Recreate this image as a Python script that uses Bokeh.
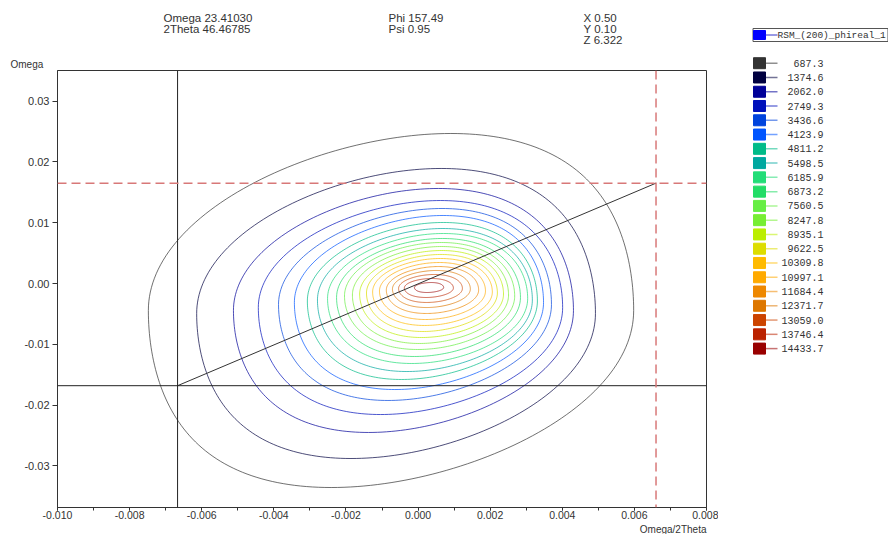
import numpy as np
from bokeh.plotting import figure
from bokeh.models import Range1d, SingleIntervalTicker, Span, PrintfTickFormatter, Title
from bokeh.layouts import row, column
from bokeh.embed import file_html
from bokeh.resources import INLINE
from bokeh.core.properties import value

# ---------------- data ----------------
levels = [687.3, 1374.6, 2062.0, 2749.3, 3436.6, 4123.9, 4811.2, 5498.5, 6185.9,
          6873.2, 7560.5, 8247.8, 8935.1, 9622.5, 10309.8, 10997.1, 11684.4,
          12371.7, 13059.0, 13746.4, 14433.7]
level_labels = ["%.1f" % v for v in levels]
level_colors = ["#333333", "#000040", "#000099", "#0011bb", "#0044dd", "#0055ff",
                "#00bb88", "#00a8a0", "#22dd77", "#22dd66", "#66ee44", "#77ee33",
                "#bbee00", "#dddd00", "#ffbb00", "#ffaa00", "#ee8800", "#dd7700",
                "#cc4400", "#bb2200", "#990000"]

# extent of each iso-intensity contour (Omega/2Theta, Omega)
contour_left = [-0.00748, -0.00614, -0.00512, -0.00443, -0.00387, -0.00343, -0.00307,
                -0.00279, -0.00251, -0.00226, -0.00204, -0.00182, -0.00162, -0.00143,
                -0.00126, -0.00107, -0.00088, -0.00071, -0.00054, -0.00038, -0.00010]
contour_right = [0.00598, 0.00492, 0.00431, 0.00401, 0.00370, 0.00348, 0.00331,
                 0.00317, 0.00304, 0.00284, 0.00268, 0.00251, 0.00237, 0.00220,
                 0.00206, 0.00187, 0.00168, 0.00145, 0.00123, 0.00098, 0.00071]
contour_top = [0.02466, 0.01891, 0.01562, 0.01364, 0.01233, 0.01118, 0.01003,
               0.00904, 0.00822, 0.00740, 0.00674, 0.00608, 0.00542, 0.00477,
               0.00411, 0.00345, 0.00279, 0.00214, 0.00148, 0.00082, 0.00016]
contour_bottom = [-0.03354, -0.02877, -0.02449, -0.02154, -0.01923, -0.01743, -0.01578,
                  -0.01447, -0.01315, -0.01200, -0.01085, -0.00986, -0.00888, -0.00789,
                  -0.00690, -0.00592, -0.00493, -0.00395, -0.00312, -0.00230, -0.00148]
# horizontal offset of each contour's highest point from its centre (tilt)
contour_tilt = [0.00166, 0.00125, 0.00097, 0.00083, 0.00075, 0.00067, 0.00058,
                0.00050, 0.00044, 0.00039, 0.00033, 0.00031, 0.00028, 0.00025,
                0.00022, 0.00019, 0.00017, 0.00014, 0.00011, 0.00008, 0.00006]

cursor_x = [-0.00667, 0.00660]
cursor_y = [-0.01680, 0.01650]

header_cols = [["Omega 23.41030", "2Theta 46.46785"],
               ["Phi 157.49", "Psi 0.95"],
               ["X 0.50", "Y 0.10", "Z 6.322"]]
series_name = "RSM_(200)_phireal_1"
x_title = "Omega/2Theta"
y_title = "Omega"

# ---------------- layout geometry (page pixels) ----------------
LEFT_W = 718
FRAME_L, FRAME_R = 57, 706
HEAD_H = 52
MAIN_H = 534 - HEAD_H
TOP_B, BOT_B = 18, 27
X0, X1 = -0.010, 0.008
Y1 = (283 - 70) / 6083.0
Y0 = (283 - (534 - BOT_B)) / 6083.0
FONT = "Liberation Sans"

# header (frame aligned with the main plot frame, so x is page pixels)
head = figure(width=LEFT_W, height=HEAD_H, x_range=Range1d(FRAME_L, FRAME_R),
              y_range=Range1d(HEAD_H, 0), toolbar_location=None, output_backend="svg",
              min_border_left=FRAME_L, min_border_right=LEFT_W - FRAME_R,
              min_border_top=0, min_border_bottom=0,
              x_axis_location=None, y_axis_location=None)
head.xgrid.visible = False
head.ygrid.visible = False
head.outline_line_color = None
hx = [163, 388, 583]
for col, x in zip(header_cols, hx):
    head.text(x=[x] * len(col), y=[17 + 11 * k for k in range(len(col))], text=col,
              text_font=value(FONT), text_font_size=value("11.5px"), text_color="#333333",
              text_baseline="middle", text_align="left")

# main plot
p = figure(width=LEFT_W, height=MAIN_H, x_range=Range1d(X0, X1), y_range=Range1d(Y0, Y1),
           toolbar_location=None, output_backend="svg",
           min_border_left=FRAME_L, min_border_right=LEFT_W - FRAME_R,
           min_border_top=TOP_B, min_border_bottom=BOT_B)
p.xgrid.visible = False
p.ygrid.visible = False
p.outline_line_color = "#333333"

p.title.text = y_title
p.title.align = "left"
p.title.offset = -47
p.title.standoff = 2
p.title.text_font = FONT
p.title.text_font_size = "10px"
p.title.text_font_style = "normal"
p.title.text_color = "#333333"

p.add_layout(Title(text=x_title, align="right", standoff=0, text_font=FONT,
                   text_font_size="10px", text_font_style="normal", text_color="#333333"),
             "below")

p.xaxis.ticker = SingleIntervalTicker(interval=0.002, num_minor_ticks=2)
p.xaxis.formatter = PrintfTickFormatter(format="%.3f")
p.yaxis.ticker = SingleIntervalTicker(interval=0.01, num_minor_ticks=0)
p.yaxis.formatter = PrintfTickFormatter(format="%.2f")
for ax in (p.xaxis[0], p.yaxis[0]):
    ax.axis_line_color = "#333333"
    ax.major_tick_line_color = "#333333"
    ax.minor_tick_line_color = "#333333"
    ax.major_tick_in = 0
    ax.minor_tick_in = 0
    ax.major_label_text_font = FONT
    ax.major_label_text_color = "#333333"
    ax.major_label_text_font_style = "normal"
p.xaxis.major_tick_out = 3
p.xaxis.minor_tick_out = 3
p.xaxis.major_label_standoff = 0
p.xaxis.major_label_text_font_size = "10.5px"
p.yaxis.major_tick_out = 5
p.yaxis.minor_tick_out = 0
p.yaxis.major_label_standoff = 3
p.yaxis.major_label_text_font_size = "11px"

# contours
t = np.linspace(0, 2 * np.pi, 241)
xs, ys = [], []
for L, R, T, B, d in zip(contour_left, contour_right, contour_top, contour_bottom, contour_tilt):
    cx, w = (L + R) / 2, (R - L) / 2
    cy, h = (T + B) / 2, (T - B) / 2
    s = np.sin(t)
    xs.append(cx + w * np.cos(t) + d * s * np.abs(s))
    ys.append(cy + h * s)
p.multi_line(xs, ys, line_color=level_colors, line_alpha=0.7, line_width=1)

# cursors
p.add_layout(Span(location=cursor_x[0], dimension="height", line_color="#222222", line_width=1))
p.add_layout(Span(location=cursor_y[0], dimension="width", line_color="#222222", line_width=1))
p.add_layout(Span(location=cursor_x[1], dimension="height", line_color="#d87878",
                  line_width=1.5, line_dash="9 5"))
p.add_layout(Span(location=cursor_y[1], dimension="width", line_color="#d87878",
                  line_width=1.5, line_dash="9 5"))
p.line(cursor_x, cursor_y, line_color="#333333", line_width=1)

# ---------------- legend panel ----------------
LW = 888 - LEFT_W
lg = figure(width=LW, height=534, x_range=Range1d(0, LW), y_range=Range1d(534, 0),
            toolbar_location=None, output_backend="svg", min_border=0,
            x_axis_location=None, y_axis_location=None)
lg.xgrid.visible = False
lg.ygrid.visible = False
lg.outline_line_color = None
lg.rect(x=[(34 + LW) / 2], y=[34.5], width=[LW - 34 - 1], height=[13],
        fill_color=None, line_color="#555555", line_width=1)
lg.rect(x=[41], y=[34.5], width=[12], height=[9], fill_color="#0000ff", line_color="#0000ff")
lg.segment(x0=[47], y0=[34.5], x1=[59], y1=[34.5], line_color="#3333cc", line_width=1)
lg.text(x=[59], y=[34.5], text=[series_name], text_font=value("Liberation Mono"),
        text_font_size=value("9.5px"), text_color="#333333", text_baseline="middle")

n = len(levels)
ly = [62.7 + 14.27 * i for i in range(n)]
lg.rect(x=[41] * n, y=ly, width=[12] * n, height=[11] * n,
        fill_color=level_colors, line_color=level_colors)
lg.segment(x0=[47] * n, y0=ly, x1=[59] * n, y1=ly, line_color=level_colors,
           line_alpha=0.55, line_width=1.5)
lg.text(x=[105] * n, y=ly, text=level_labels, text_font=value("Liberation Mono"),
        text_font_size=value("10px"), text_color="#333333", text_baseline="middle",
        text_align="right")

layout = row(column(head, p), lg)
open("out.html", "w").write(file_html(layout, INLINE))
